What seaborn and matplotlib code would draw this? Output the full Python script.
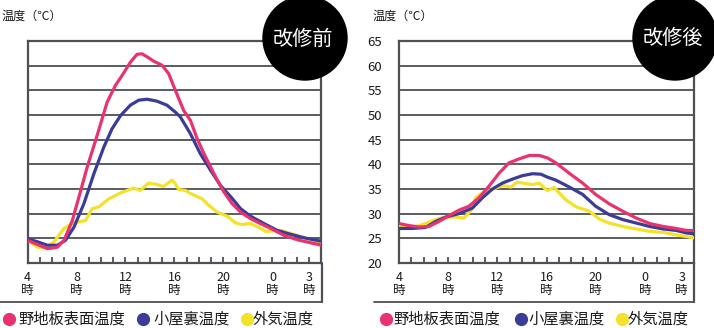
import matplotlib
matplotlib.use("Agg")
import matplotlib.pyplot as plt
import seaborn as sns
import pandas as pd
from matplotlib.lines import Line2D
from matplotlib.patches import Circle

# ---------------- data ----------------
series_names = ['野地板表面温度', '小屋裏温度', '外気温度']
series_colors = ['#E8336F', '#3A3C98', '#F5E12A']
panel_titles = ['改修前', '改修後']
y_label_text = '温度（℃）'
x_tick_hours = [4, 8, 12, 16, 20, 24, 27]
x_tick_labels = ['4\n時', '8\n時', '12\n時', '16\n時', '20\n時', '0\n時', '3\n時']
y_ticks = [20, 25, 30, 35, 40, 45, 50, 55, 60, 65]

# before renovation
before_roof_h = [4.0, 4.95, 5.63, 6.44, 6.98, 7.66, 8.2, 8.88, 9.69, 10.5, 11.18, 11.72, 12.4, 12.94,
                 13.35, 13.89, 14.3, 14.98, 15.52, 16.07, 16.75, 17.3, 17.85, 18.4, 18.94, 19.49,
                 20.03, 20.71, 21.4, 22.2, 23.0, 23.86, 24.95, 26.04, 27.1, 28.0]
before_roof_t = [24.6, 23.6, 22.9, 23.2, 24.6, 28.6, 33.4, 39.5, 45.9, 52.6, 56.0, 58.0, 60.7, 62.3,
                 62.4, 61.6, 60.9, 60.1, 58.4, 55.0, 50.9, 48.9, 45.2, 42.2, 39.5, 36.8,
                 34.4, 32.0, 30.3, 29.0, 28.0, 27.0, 25.6, 24.7, 24.1, 23.6]
before_attic_h = [4.0, 4.81, 5.63, 6.44, 7.1, 7.8, 8.6, 9.42, 10.23, 10.9, 11.6, 12.4, 13.08, 13.76,
                  14.57, 15.38, 16.06, 16.48, 17.3, 18.1, 18.94, 19.76, 20.6, 21.4, 22.2, 23.3,
                  24.4, 25.5, 26.6, 28.0]
before_attic_t = [24.9, 24.3, 23.6, 23.6, 24.6, 27.3, 32.0, 38.1, 43.5, 47.2, 49.9, 52.0, 53.0, 53.2,
                  52.8, 52.0, 50.6, 49.6, 46.2, 42.2, 38.8, 35.7, 33.4, 31.0, 29.5, 28.0,
                  26.6, 25.8, 25.1, 24.4]
before_out_h = [4.0, 4.81, 5.5, 6.17, 6.98, 7.8, 8.74, 9.28, 9.83, 10.64, 11.59, 12.67, 13.2, 13.89,
                14.57, 15.1, 15.79, 16.06, 16.34, 16.9, 17.3, 18.26, 18.8, 19.5, 20.3, 21.0, 21.5,
                22.2, 22.9, 23.45, 24.0, 24.7, 25.5, 26.6, 28.0]
before_out_t = [24.7, 23.2, 23.1, 24.3, 27.0, 28.2, 28.6, 31.0, 31.4, 33.0, 34.2, 35.2, 34.7, 36.2,
                35.9, 35.5, 36.8, 36.1, 34.9, 34.7, 34.1, 33.0, 31.7, 30.3, 29.5, 28.1, 27.8,
                28.0, 27.2, 26.4, 26.5, 26.6, 26.0, 25.1, 24.1]

# after renovation
after_roof_h = [4.0, 4.79, 5.6, 6.42, 7.24, 8.06, 8.87, 9.69, 10.5, 11.3, 12.14, 12.95, 13.77, 14.6,
                15.4, 16.08, 16.76, 17.85, 18.94, 20.0, 21.1, 22.2, 23.3, 24.4, 25.5, 26.55, 27.37, 28.0]
after_roof_t = [28.0, 27.6, 27.3, 27.4, 28.4, 29.6, 30.7, 31.5, 33.2, 35.5, 38.2, 40.3, 41.1, 41.8,
                41.8, 41.3, 40.3, 38.2, 36.2, 33.9, 32.0, 30.5, 29.1, 28.0, 27.4, 27.0, 26.6, 26.6]
after_attic_h = [4.0, 5.06, 6.15, 6.97, 7.78, 8.87, 9.96, 10.78, 11.6, 12.41, 13.23, 14.04, 14.86,
                 15.54, 16.08, 16.76, 17.85, 18.94, 20.0, 21.1, 22.2, 23.3, 24.4, 25.5, 26.55, 27.37, 28.0]
after_attic_t = [27.0, 27.0, 27.2, 28.4, 29.3, 30.0, 31.1, 33.2, 35.0, 36.2, 37.0, 37.7, 38.1,
                 38.0, 37.4, 36.8, 35.4, 33.9, 31.5, 29.8, 28.8, 28.1, 27.4, 26.9, 26.6, 26.1, 25.9]
after_out_h = [4.0, 5.06, 6.15, 6.97, 7.78, 8.6, 9.28, 9.8, 10.23, 10.78, 11.6, 12.41, 13.1, 13.63,
               14.3, 14.86, 15.4, 15.95, 16.08, 16.62, 17.03, 17.57, 18.4, 19.48, 20.3, 21.1, 22.2,
               23.3, 24.4, 25.5, 26.55, 28.0]
after_out_t = [27.4, 27.2, 28.0, 28.8, 29.3, 29.3, 29.1, 30.5, 33.2, 34.2, 34.9, 35.7, 35.4, 36.4,
               36.1, 35.9, 36.2, 34.9, 34.7, 35.3, 34.2, 32.8, 31.4, 30.5, 28.9, 28.1, 27.4,
               26.9, 26.4, 26.2, 25.7, 25.1]

panels = [
    [(before_roof_h, before_roof_t), (before_attic_h, before_attic_t), (before_out_h, before_out_t)],
    [(after_roof_h, after_roof_t), (after_attic_h, after_attic_t), (after_out_h, after_out_t)],
]

# ---------------- style ----------------
sns.set_theme(style='white')
plt.rcParams['font.family'] = ['Noto Sans CJK JP', 'DejaVu Sans']

W, H = 714, 328
fig = plt.figure(figsize=(W / 100, H / 100), dpi=100)
grid_c = '#4c5156'
text_c = '#1a1a1a'


def fx(px):
    return px / W


def fy(py):
    return 1 - py / H


axes_px = [(27.5, 321.5), (399, 694)]
top_px, bot_px = 41, 263

for i, (x0, x1) in enumerate(axes_px):
    ax = fig.add_axes([fx(x0), fy(bot_px), fx(x1 - x0), (bot_px - top_px) / H])
    rows = []
    for name, (hh, tt) in zip(series_names, panels[i]):
        for h, t in zip(hh, tt):
            rows.append({'hour': h, 'temp': t, 'series': name})
    df = pd.DataFrame(rows)
    order_draw = [series_names[2], series_names[1], series_names[0]]
    for name in order_draw:
        sub = df[df['series'] == name]
        sns.lineplot(data=sub, x='hour', y='temp', color=series_colors[series_names.index(name)],
                     linewidth=2.3, estimator=None, sort=False, ax=ax, legend=False,
                     solid_joinstyle='round', solid_capstyle='round', zorder=3)
    ax.set_xlim(4, 28)
    ax.set_ylim(20, 65)
    ax.set_yticks(y_ticks)
    ax.grid(axis='y', color=grid_c, linewidth=1.3)
    ax.grid(axis='x', visible=False)
    ax.set_axisbelow(True)
    for sp in ax.spines.values():
        sp.set_color(grid_c)
        sp.set_linewidth(1.6)
    ax.set_xticks(x_tick_hours)
    ax.set_xticklabels(x_tick_labels, fontsize=9, linespacing=0.95, color=text_c)
    ax.set_xticks(list(range(5, 28)), minor=True)
    ax.tick_params(axis='x', which='both', direction='in', length=4, width=1.3,
                   color=grid_c, pad=6, bottom=True)
    if i == 0:
        ax.tick_params(axis='y', left=False, labelleft=False)
    else:
        ax.tick_params(axis='y', left=False, labelsize=9.5, pad=6, labelcolor=text_c)
    ax.set_xlabel('')
    ax.set_ylabel('')

    # y-axis title
    lx = 2 if i == 0 else 373
    fig.text(fx(lx), fy(16), y_label_text, fontsize=8.7, va='center', ha='left', color=text_c)

    # bracket lines under tick labels
    bx0 = 0 if i == 0 else 374
    fig.add_artist(Line2D([fx(bx0), fx(x1)], [fy(302), fy(302)], color=grid_c, lw=1.3,
                          transform=fig.transFigure))
    fig.add_artist(Line2D([fx(x1), fx(x1)], [fy(bot_px), fy(302)], color=grid_c, lw=1.6,
                          transform=fig.transFigure))

    # black circle badge
    cx = 305 if i == 0 else 675
    circ = Circle((cx / 100, (H - 38) / 100), 0.42, color='black',
                  transform=fig.dpi_scale_trans, zorder=10)
    fig.add_artist(circ)
    fig.text(fx(cx - 2), fy(39), panel_titles[i], color='white', fontsize=14.5,
             ha='center', va='center', zorder=11)

# legends
legend_px = [
    [(9, 18), (143, 153), (247, 253)],
    [(386, 393), (521, 528), (622, 628)],
]
for lp in legend_px:
    for (mx, tx), name, col in zip(lp, series_names, series_colors):
        fig.add_artist(Line2D([fx(mx)], [fy(319)], marker='o', markersize=8.5, color=col,
                              linestyle='none', transform=fig.transFigure))
        fig.text(fx(tx), fy(319), name, fontsize=11, va='center', ha='left', color=text_c)

fig.savefig('out.png', dpi=100)
